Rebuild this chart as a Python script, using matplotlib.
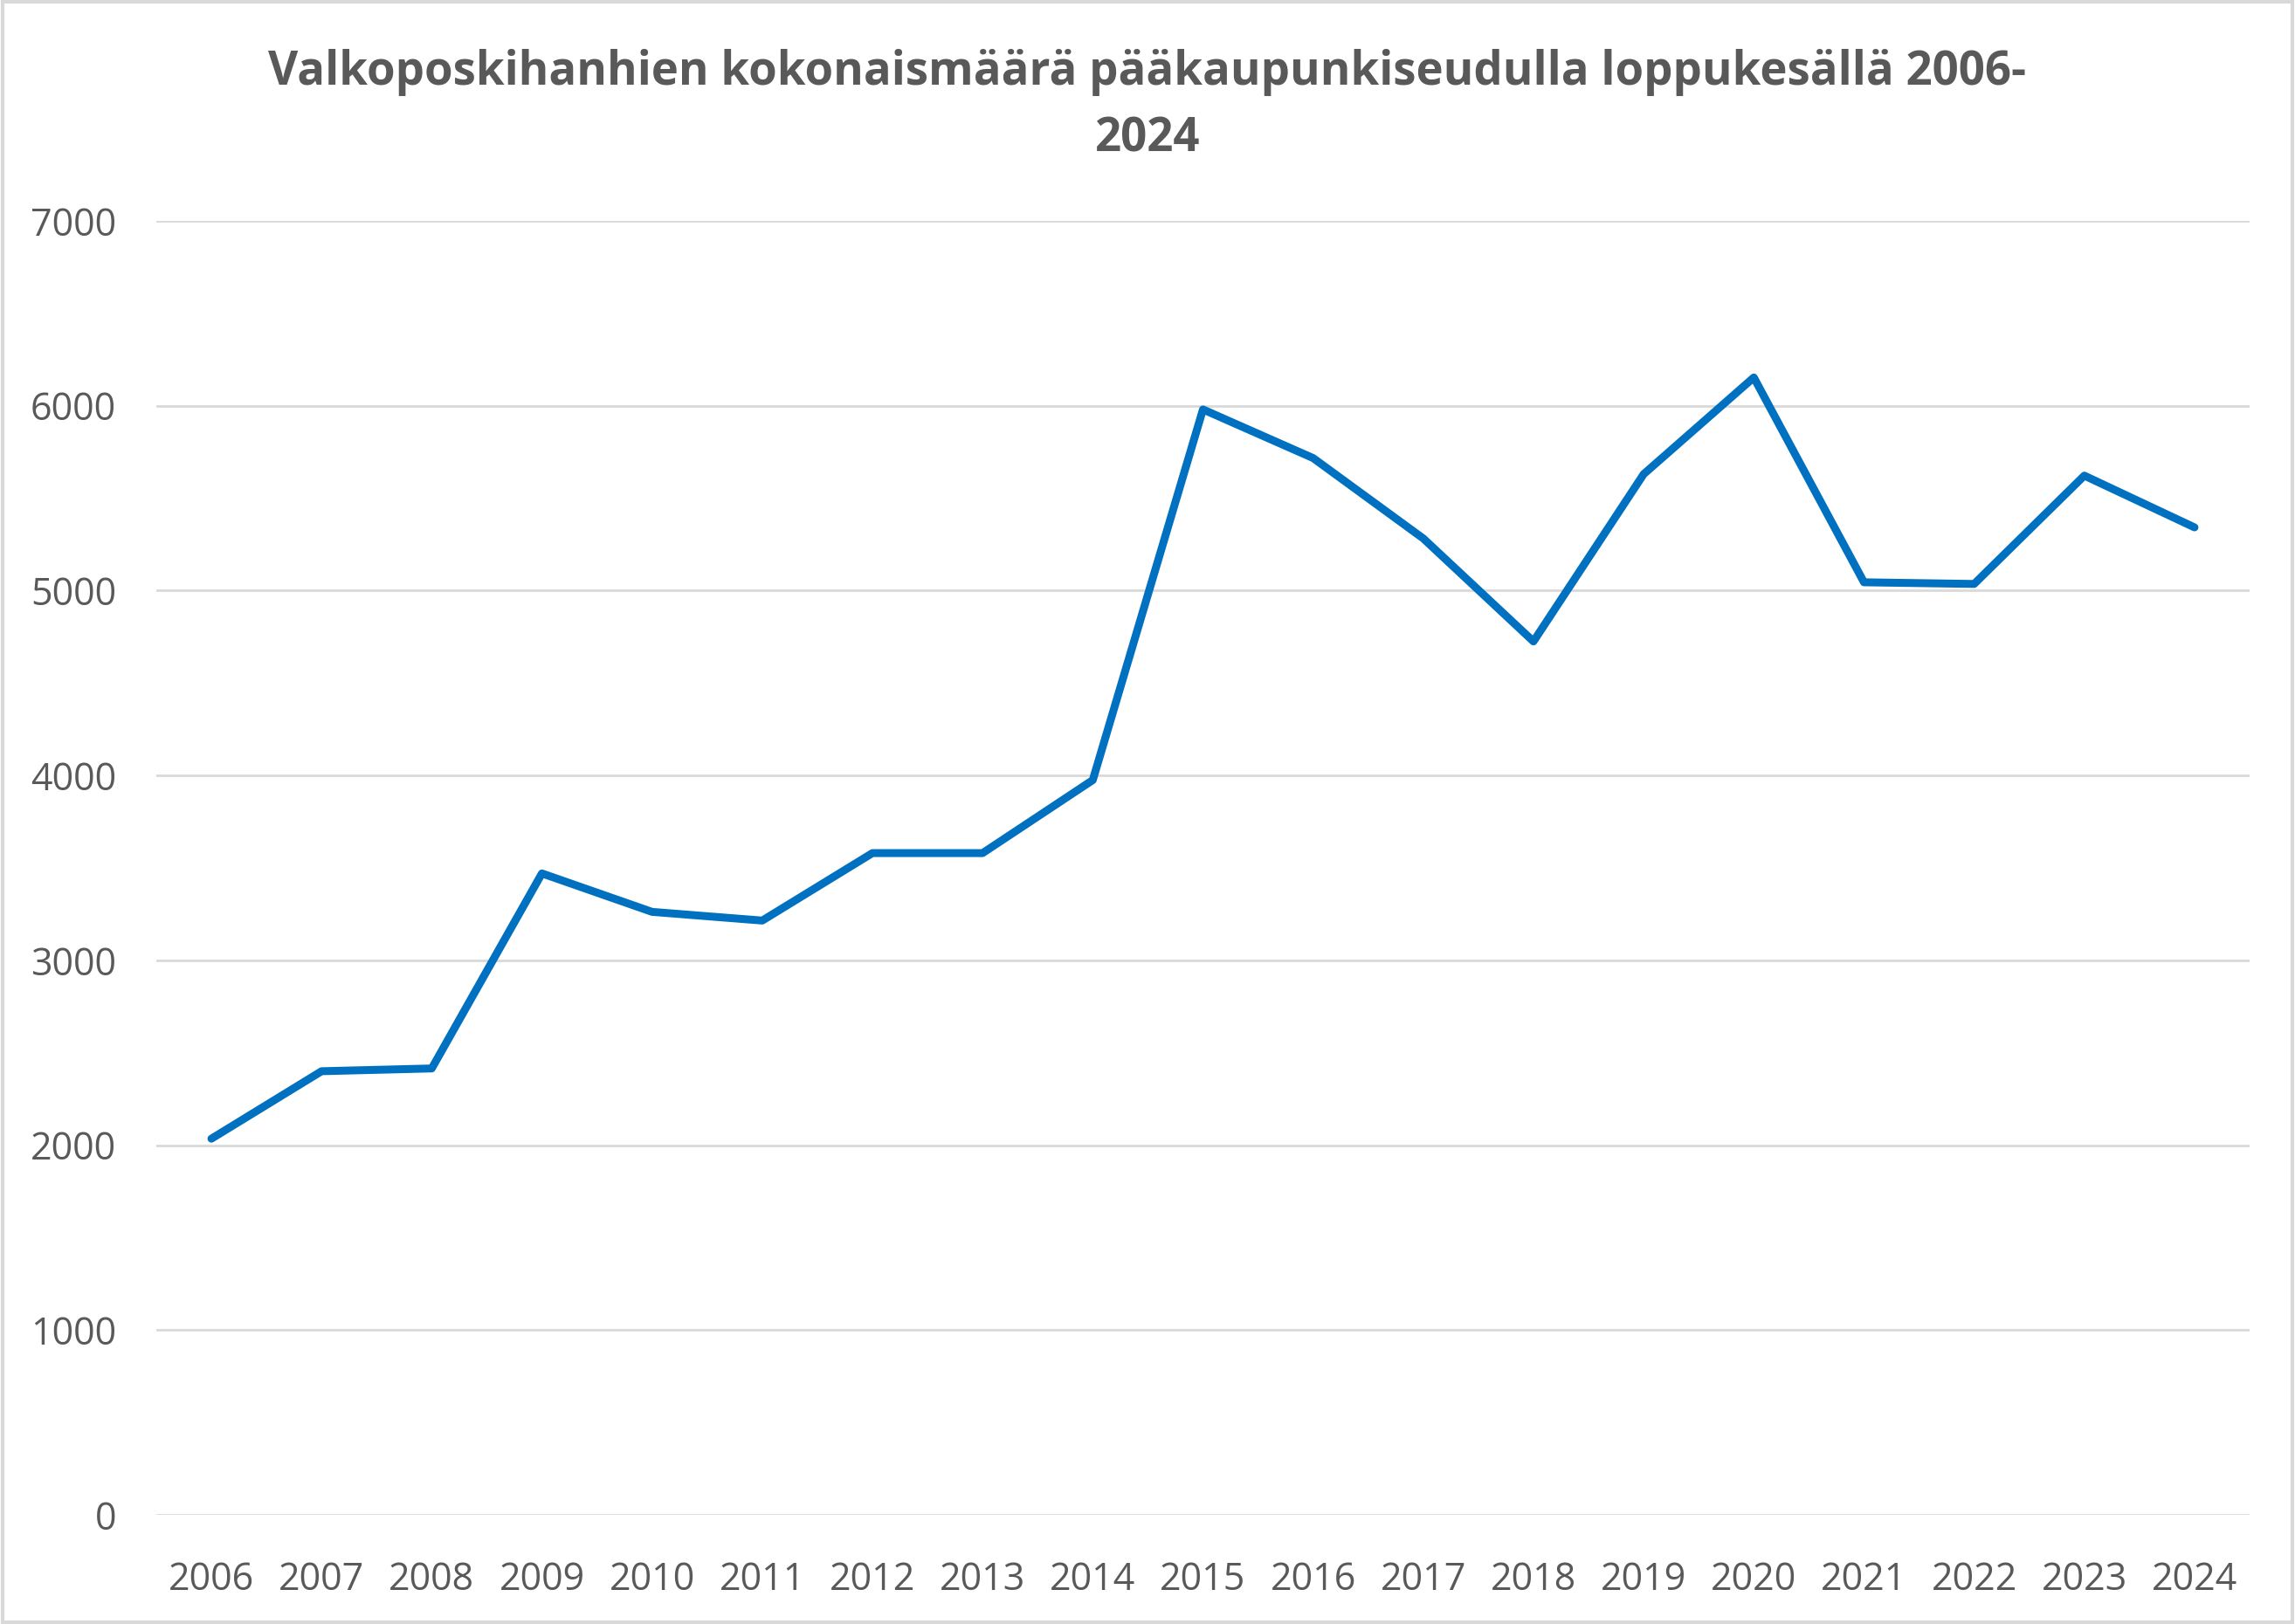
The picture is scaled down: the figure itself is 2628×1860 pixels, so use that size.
import matplotlib.pyplot as plt
from matplotlib.patches import Rectangle

# data
years = ['2006', '2007', '2008', '2009', '2010', '2011', '2012', '2013', '2014', '2015',
         '2016', '2017', '2018', '2019', '2020', '2021', '2022', '2023', '2024']
geese = [2035, 2400, 2415, 3470, 3262, 3215, 3580, 3580, 3975, 5980,
         5717, 5282, 4725, 5630, 6153, 5045, 5036, 5622, 5342]
yticks = [0, 1000, 2000, 3000, 4000, 5000, 6000, 7000]

plt.rcParams['font.family'] = ['Open Sans', 'DejaVu Sans']
grey = '#595959'

fig = plt.figure(figsize=(26.28, 18.6), dpi=100)
ax = fig.add_axes([179/2628, 1 - 1735/1860, (2576-179)/2628, (1735-253)/1860])

ax.plot(range(len(years)), geese, color='#0070C0', linewidth=6.5,
        solid_joinstyle='round', solid_capstyle='round', zorder=3)

ax.set_xlim(-0.5, len(years) - 0.5)
ax.set_ylim(0, 7000)
ax.set_yticks(yticks)
ax.set_xticks(range(len(years)))
ax.set_xticklabels(years)
ax.grid(axis='y', color='#D9D9D9', linewidth=2)
ax.set_axisbelow(True)
for s in ax.spines.values():
    s.set_visible(False)
ax.tick_params(length=0, labelsize=31, labelcolor=grey)
ax.tick_params(axis='y', pad=33)
ax.tick_params(axis='x', pad=38)

fig.text(0.5, 1 - 121/1860,
         'Valkoposkihanhien kokonaismäärä pääkaupunkiseudulla loppukesällä 2006-\n2024',
         ha='center', va='center', fontsize=38, fontweight='bold', color=grey,
         linespacing=1.55)

# light frame round the chart
fig.patches.append(Rectangle((0.001, 0.001), 0.998, 0.998, transform=fig.transFigure,
                             fill=False, edgecolor='#D9D9D9', linewidth=3))

fig.savefig('out.png', dpi=100)
